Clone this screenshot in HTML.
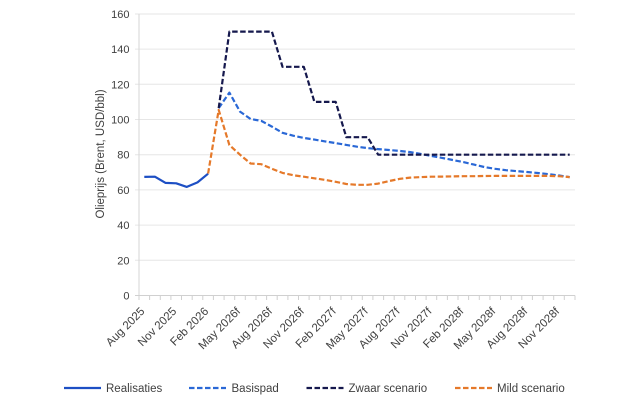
<!DOCTYPE html>
<html><head><meta charset="utf-8"><style>
html,body{margin:0;padding:0;background:#fff;}
svg{display:block;}
text{font-family:"Liberation Sans",Arial,sans-serif;fill:#404040;}
</style></head><body>
<svg width="626" height="417" viewBox="0 0 626 417" xmlns="http://www.w3.org/2000/svg">
<rect width="626" height="417" fill="#fff"/>
<g stroke="#e6e6e6" stroke-width="1">
<line x1="135" y1="14" x2="575" y2="14"/>
<line x1="135" y1="49.1" x2="575" y2="49.1"/>
<line x1="135" y1="84.3" x2="575" y2="84.3"/>
<line x1="135" y1="119.5" x2="575" y2="119.5"/>
<line x1="135" y1="154.7" x2="575" y2="154.7"/>
<line x1="135" y1="189.9" x2="575" y2="189.9"/>
<line x1="135" y1="225.1" x2="575" y2="225.1"/>
<line x1="135" y1="260.3" x2="575" y2="260.3"/>
</g>
<line x1="139" y1="14" x2="139" y2="295.5" stroke="#d6d6d6" stroke-width="1"/>
<line x1="135" y1="295.5" x2="575" y2="295.5" stroke="#d0d0d0" stroke-width="1"/>
<g stroke="#d0d0d0" stroke-width="1" id="xt"></g>
<g font-size="11" text-anchor="end">
<text x="129.5" y="18">160</text>
<text x="129.5" y="53.1">140</text>
<text x="129.5" y="88.3">120</text>
<text x="129.5" y="123.5">100</text>
<text x="129.5" y="158.7">80</text>
<text x="129.5" y="193.9">60</text>
<text x="129.5" y="229.1">40</text>
<text x="129.5" y="264.3">20</text>
<text x="129.5" y="299.5">0</text>
</g>
<text x="0" y="0" font-size="11.5" text-anchor="middle" transform="translate(104,154) rotate(-90)">Olieprijs (Brent, USD/bbl)</text>
<g font-size="11.5" text-anchor="end">
<text transform="translate(145.3,312) rotate(-45)">Aug 2025</text>
<text transform="translate(177.2,312) rotate(-45)">Nov 2025</text>
<text transform="translate(209.1,312) rotate(-45)">Feb 2026</text>
<text transform="translate(241,312) rotate(-45)">May 2026f</text>
<text transform="translate(272.9,312) rotate(-45)">Aug 2026f</text>
<text transform="translate(304.8,312) rotate(-45)">Nov 2026f</text>
<text transform="translate(336.7,312) rotate(-45)">Feb 2027f</text>
<text transform="translate(368.6,312) rotate(-45)">May 2027f</text>
<text transform="translate(400.5,312) rotate(-45)">Aug 2027f</text>
<text transform="translate(432.4,312) rotate(-45)">Nov 2027f</text>
<text transform="translate(464.3,312) rotate(-45)">Feb 2028f</text>
<text transform="translate(496.2,312) rotate(-45)">May 2028f</text>
<text transform="translate(528.1,312) rotate(-45)">Aug 2028f</text>
<text transform="translate(560,312) rotate(-45)">Nov 2028f</text>
</g>
<g stroke="#d0d0d0" stroke-width="1">
<path d="M139,295.5v4.5M149.6,295.5v4.5M160.3,295.5v4.5M170.9,295.5v4.5M181.5,295.5v4.5M192.2,295.5v4.5M202.8,295.5v4.5M213.4,295.5v4.5M224.1,295.5v4.5M234.7,295.5v4.5M245.3,295.5v4.5M256,295.5v4.5M266.6,295.5v4.5M277.2,295.5v4.5M287.9,295.5v4.5M298.5,295.5v4.5M309.1,295.5v4.5M319.8,295.5v4.5M330.4,295.5v4.5M341,295.5v4.5M351.7,295.5v4.5M362.3,295.5v4.5M372.9,295.5v4.5M383.6,295.5v4.5M394.2,295.5v4.5M404.8,295.5v4.5M415.5,295.5v4.5M426.1,295.5v4.5M436.7,295.5v4.5M447.4,295.5v4.5M458,295.5v4.5M468.6,295.5v4.5M479.3,295.5v4.5M489.9,295.5v4.5M500.5,295.5v4.5M511.2,295.5v4.5M521.8,295.5v4.5M532.4,295.5v4.5M543.1,295.5v4.5M553.7,295.5v4.5M564.3,295.5v4.5M575,295.5v4.5"/>
</g>
<g fill="none" stroke-width="2.2" stroke-linejoin="round">
<polyline stroke="#1d4fc4" points="144.3,176.9 154.9,176.7 165.6,182.9 176.2,183.3 186.8,186.9 197.5,182.4 208.1,173.7"/>
<polyline stroke="#2a68d6" stroke-dasharray="5.5,2.5" points="218.7,108.1 229.4,92.6 240,111.6 250.6,119 261.3,120.9 271.9,126.6 282.5,132.8 293.2,135.7 303.8,137.9 314.4,139.6 325.1,141.4 335.7,143.1 346.3,144.9 357,146.7 367.6,148.1 378.2,149.1 388.9,150 399.5,150.9 410.2,152.1 420.8,153.9 431.4,156 442.1,157.9 452.7,160 463.3,162.1 474,164.6 484.6,167.1 495.2,168.8 505.9,170.2 516.5,171.1 527.1,172 537.8,173 548.4,174.1 559,175.5 569.7,177.1"/>
<polyline stroke="#15184d" stroke-dasharray="5.5,2.5" points="218.7,108.1 229.4,31.6 271.9,31.6 282.5,66.8 303.8,66.8 314.4,101.9 335.7,101.9 346.3,137.2 367.6,137.2 378.2,154.7 569.7,154.7"/>
<polyline stroke="#e5792a" stroke-dasharray="5.5,2.5" points="208.1,173.6 218.7,109.9 229.4,145.1 240,154.7 250.6,163.5 261.3,164.2 271.9,168.8 282.5,172.9 293.2,175.2 303.8,176.7 314.4,178.3 325.1,179.9 335.7,181.8 346.3,184 357,184.8 367.6,184.8 378.2,183.6 388.9,181.1 399.5,178.9 410.2,177.6 420.8,177.1 431.4,176.7 442.1,176.6 452.7,176.4 463.3,176.2 474,176.2 484.6,176 495.2,175.9 505.9,175.9 516.5,175.9 527.1,175.9 537.8,175.9 548.4,175.9 559,176.2 569.7,177.1"/>
</g>
<g stroke-width="2.2">
<line x1="64" y1="388" x2="101" y2="388" stroke="#1d4fc4"/>
<line x1="189" y1="388" x2="226" y2="388" stroke="#2a68d6" stroke-dasharray="5.5,2.5"/>
<line x1="306.5" y1="388" x2="343.5" y2="388" stroke="#15184d" stroke-dasharray="5.5,2.5"/>
<line x1="455" y1="388" x2="492" y2="388" stroke="#e5792a" stroke-dasharray="5.5,2.5"/>
</g>
<g font-size="11.5">
<text x="106" y="392">Realisaties</text>
<text x="231.5" y="392">Basispad</text>
<text x="348.5" y="392">Zwaar scenario</text>
<text x="497" y="392">Mild scenario</text>
</g>
</svg>
</body></html>
